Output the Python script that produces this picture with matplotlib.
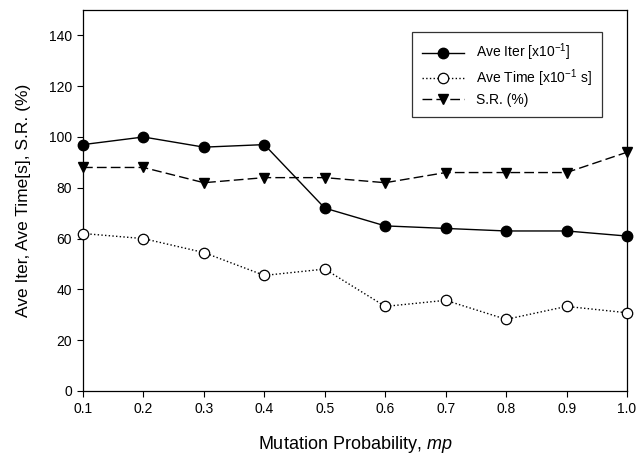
import numpy as np
import matplotlib
matplotlib.use('Agg')
import matplotlib.pyplot as plt

plt.rcParams['font.family'] = ['Liberation Sans', 'DejaVu Sans']
plt.rcParams['mathtext.fontset'] = 'custom'
plt.rcParams['mathtext.rm'] = 'Liberation Sans'
plt.rcParams['mathtext.it'] = 'Liberation Sans:italic'

# data
mp = [0.1, 0.2, 0.3, 0.4, 0.5, 0.6, 0.7, 0.8, 0.9, 1.0]
ave_iter = [97, 100, 96, 97, 72, 65, 64, 63, 63, 61]
ave_time = [62, 60, 54.5, 45.5, 48, 33.3, 35.7, 28.2, 33.3, 30.8]
sr = [88, 88, 82, 84, 84, 82, 86, 86, 86, 94]

fig = plt.figure(figsize=(6.4, 4.58), dpi=100)
ax = fig.add_axes([0.1297, 0.1463, 0.85, 0.8319])

ax.plot(mp, ave_iter, '-', color='black', lw=1.0, marker='o', ms=7.5,
        mfc='black', mec='black', label='Ave Iter [x10$^{\\mathregular{-1}}$]', clip_on=False, zorder=3)
ax.plot(mp, ave_time, ':', color='black', lw=1.0, marker='o', ms=7.5,
        mfc='white', mec='black', mew=0.9, label='Ave Time [x10$^{\\mathregular{-1}}$ s]', clip_on=False, zorder=3)
ax.plot(mp, sr, color='black', lw=1.0, dashes=(7, 3), marker='v', ms=7.5,
        mfc='black', mec='black', label='S.R. (%)', clip_on=False, zorder=3)

ax.set_xlim(0.1, 1.0)
ax.set_ylim(0, 150)
ax.set_xticks(np.arange(0.1, 1.01, 0.1))
ax.set_xticklabels([f'{v:.1f}' for v in np.arange(0.1, 1.01, 0.1)])
ax.set_yticks(np.arange(0, 141, 20))
ax.tick_params(direction='out', length=4, width=0.8, labelsize=10, pad=4)
for s in ax.spines.values():
    s.set_linewidth(0.9)

ax.set_xlabel('Mutation Probability, $\\mathit{mp}$', fontsize=13, labelpad=13)
ax.set_ylabel('Ave Iter, Ave Time[s], S.R. (%)', fontsize=12.5, labelpad=13)

leg = ax.legend(loc='upper left', bbox_to_anchor=(0.605, 0.942), fontsize=10,
                frameon=True, fancybox=False, edgecolor='black', borderpad=0.7,
                handlelength=3.0, labelspacing=0.3, borderaxespad=0, handletextpad=0.9)
leg.get_frame().set_linewidth(0.9)

fig.savefig('out.png', dpi=100)
